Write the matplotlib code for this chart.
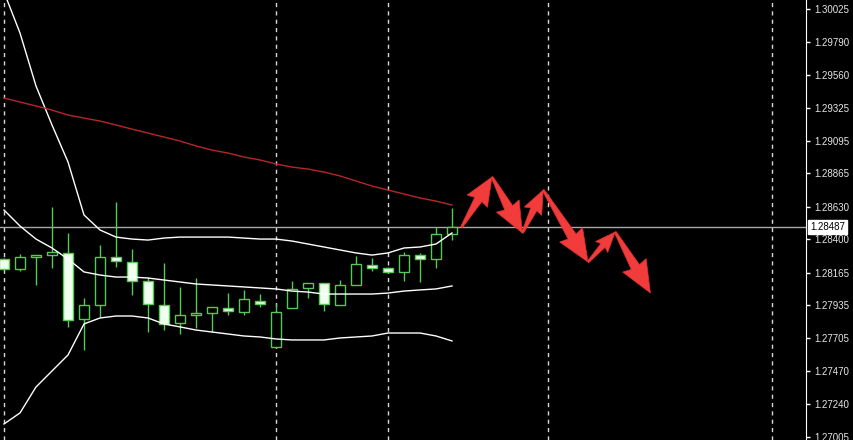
import numpy as np
import matplotlib
matplotlib.use("Agg")
from matplotlib import pyplot as plt
from matplotlib.patches import Polygon

# candles, bar 0 is the leftmost (partly cut off)
opens = [1.28261, 1.28191, 1.28275, 1.28289, 1.28304, 1.27838, 1.27937, 1.28275, 1.28240, 1.28106,
         1.27937, 1.27810, 1.27866, 1.27880, 1.27916, 1.27887, 1.27965, 1.27640, 1.27916, 1.28057,
         1.28092, 1.27937, 1.28078, 1.28219, 1.28198, 1.28170, 1.28289, 1.28261, 1.28438]
highs = [1.28268, 1.28297, 1.28289, 1.28628, 1.28445, 1.27986, 1.28360, 1.28663, 1.28332, 1.28134,
         1.28233, 1.28064, 1.28127, 1.27923, 1.28021, 1.28043, 1.28014, 1.27944, 1.28106, 1.28092,
         1.28092, 1.28113, 1.28282, 1.28268, 1.28205, 1.28311, 1.28304, 1.28487, 1.28621]
lows = [1.28184, 1.28177, 1.28078, 1.28198, 1.27782, 1.27619, 1.27852, 1.28205, 1.28007, 1.27746,
        1.27760, 1.27732, 1.27774, 1.27746, 1.27866, 1.27866, 1.27923, 1.27640, 1.27916, 1.27986,
        1.27894, 1.27937, 1.28078, 1.28177, 1.28163, 1.28106, 1.28099, 1.28198, 1.28395]
closes = [1.28191, 1.28275, 1.28289, 1.28311, 1.27831, 1.27937, 1.28275, 1.28247, 1.28106, 1.27944,
          1.27803, 1.27866, 1.27880, 1.27923, 1.27894, 1.27979, 1.27944, 1.27887, 1.28050, 1.28092,
          1.27944, 1.28078, 1.28226, 1.28198, 1.28170, 1.28289, 1.28261, 1.28438, 1.28487]

# bollinger bands
bb_upper = [1.30145, 1.29856, 1.29482, 1.29207, 1.28946, 1.28572, 1.28466, 1.28416, 1.28402, 1.28395,
            1.28409, 1.28416, 1.28416, 1.28416, 1.28416, 1.28409, 1.28402, 1.28402, 1.28388, 1.28367,
            1.28346, 1.28325, 1.28304, 1.28289, 1.28304, 1.28339, 1.28346, 1.28367, 1.28445]
bb_mid = [1.28607, 1.28494, 1.28402, 1.28339, 1.28261, 1.28170, 1.28148, 1.28134, 1.28134, 1.28127,
          1.28113, 1.28099, 1.28085, 1.28078, 1.28071, 1.28064, 1.28057, 1.28050, 1.28035, 1.28028,
          1.28014, 1.28014, 1.28014, 1.28014, 1.28021, 1.28035, 1.28043, 1.28050, 1.28071]
bb_lower = [1.27097, 1.27175, 1.27358, 1.27471, 1.27584, 1.27803, 1.27845, 1.27859, 1.27859, 1.27845,
            1.27803, 1.27782, 1.27760, 1.27746, 1.27732, 1.27718, 1.27711, 1.27697, 1.27690, 1.27690,
            1.27690, 1.27704, 1.27711, 1.27718, 1.27739, 1.27739, 1.27739, 1.27718, 1.27683]
# slow moving average (red)
ma_slow = [1.29397, 1.29369, 1.29341, 1.29312, 1.29277, 1.29256, 1.29235, 1.29207, 1.29178, 1.29150,
           1.29122, 1.29094, 1.29059, 1.29030, 1.29009, 1.28981, 1.28960, 1.28932, 1.28910, 1.28896,
           1.28875, 1.28847, 1.28812, 1.28776, 1.28748, 1.28720, 1.28692, 1.28670, 1.28642]

price_ticks = [1.30025, 1.29790, 1.29560, 1.29325, 1.29095, 1.28865, 1.28630,
               1.28400, 1.28165, 1.27935, 1.27705, 1.27470, 1.27240, 1.27005]
last_price = 1.28487
separators = [0, 17, 24, 34, 48]

# drawn forecast zigzag: (bar index, price)
zig_x = [28.6, 30.5, 32.4, 33.7, 36.5, 38.2, 40.4]
zig_y = [1.28487, 1.28840, 1.28445, 1.28748, 1.28240, 1.28452, 1.28021]

green = '#55c855'
plt.rcParams['font.family'] = ['Liberation Sans', 'DejaVu Sans']

fig = plt.figure(figsize=(8.54, 4.40), dpi=100, facecolor='black')
ax = fig.add_axes([0, 0, 806 / 854, 1], facecolor='black')
ax.set_xlim(-0.25, 50.125)
ax.set_ylim(1.26984, 1.30089)

for s in separators:
    ax.axvline(s, color='#d8d8d8', lw=1, ls=(0, (3, 3)), zorder=1)
ax.axhline(last_price, color='#a8a8a8', lw=1, zorder=2)

x = np.arange(len(opens))
o = np.array(opens)
c = np.array(closes)
bull = c >= o
ax.vlines(x, lows, highs, color=green, lw=1, zorder=3)
body_lo = np.minimum(o, c)
body_h = np.abs(c - o)
ax.bar(x[bull], body_h[bull], bottom=body_lo[bull], width=0.6,
       color='black', edgecolor=green, lw=1, zorder=4)
ax.bar(x[~bull], body_h[~bull], bottom=body_lo[~bull], width=0.6,
       color='#f0fff0', edgecolor=green, lw=1, zorder=4)

ax.plot(x, bb_upper, color='white', lw=1, zorder=5)
ax.plot(x, bb_mid, color='white', lw=1, zorder=5)
ax.plot(x, bb_lower, color='white', lw=1, zorder=5)
ax.plot(x, ma_slow, color='#b8262a', lw=1, zorder=5)


def fat_arrow(ax, x0, y0, x1, y1):
    tr = ax.transData
    s = tr.transform((x0, y0))
    e = tr.transform((x1, y1))
    d = e - s
    L = np.hypot(*d)
    u = d / L
    n = np.array([-u[1], u[0]])
    head = min(0.45 * L, 30)
    hw = 0.45 * head
    sw = 0.35 * hw
    b = e - u * head
    pts = [s + n * 1.0, b + n * sw, b - u * 2 + n * hw, e,
           b - u * 2 - n * hw, b - n * sw, s - n * 1.0]
    pts = tr.inverted().transform(pts)
    ax.add_patch(Polygon(pts, closed=True, fc='#f23c3c', ec='#e03030', lw=0.5, zorder=6))


for i in range(len(zig_x) - 1):
    fat_arrow(ax, zig_x[i], zig_y[i], zig_x[i + 1], zig_y[i + 1])

for side in ['top', 'left', 'bottom']:
    ax.spines[side].set_visible(False)
ax.spines['right'].set_color('white')
ax.set_xticks([])
ax.yaxis.tick_right()
ax.set_yticks(price_ticks)
ax.set_yticklabels([f"{t:.5f}" for t in price_ticks])
ax.tick_params(axis='y', colors='white', labelcolor='#e6e6e6', length=3, width=1,
               pad=3, labelsize=7)

ax.annotate(f"{last_price:.5f}", xy=(1, last_price), xycoords=('axes fraction', 'data'),
            xytext=(4, 0), textcoords='offset pixels', ha='left', va='center',
            fontsize=7, color='black', annotation_clip=False,
            bbox=dict(boxstyle='square,pad=0.25', fc='white', ec='white'))

fig.savefig('out.png', dpi=100, facecolor='black')
